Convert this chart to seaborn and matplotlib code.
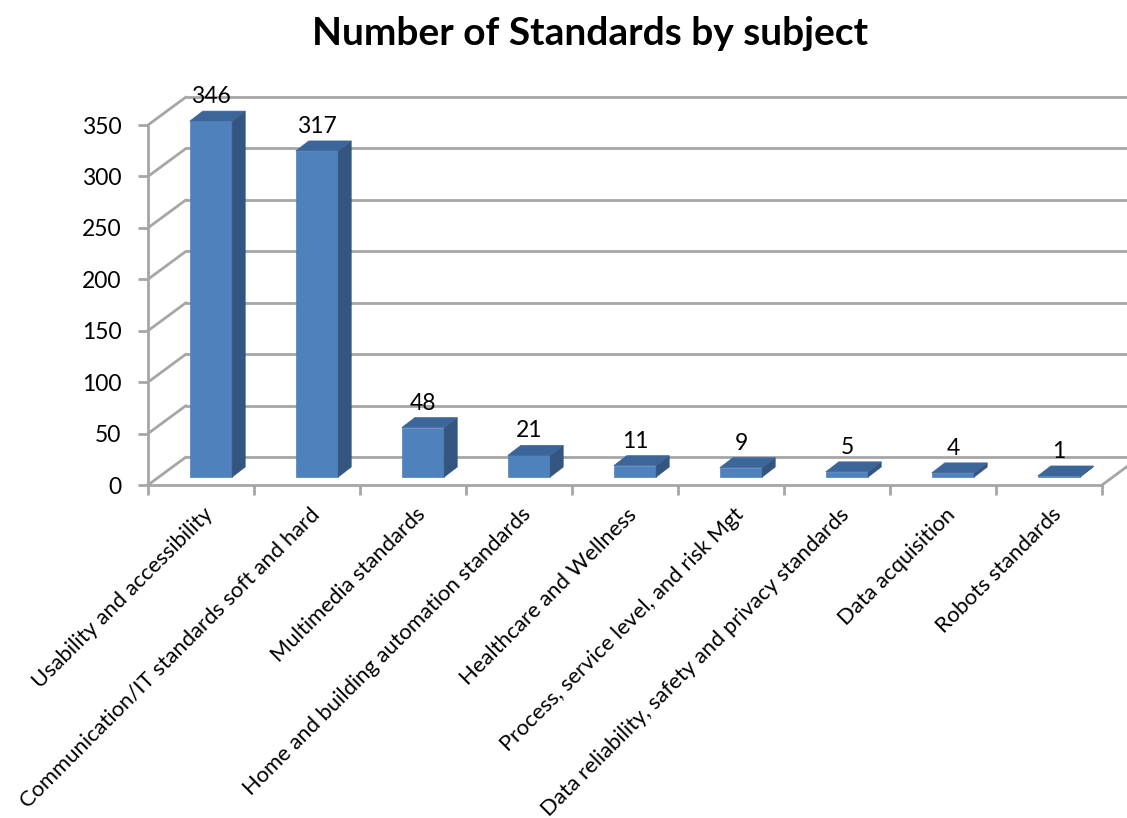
import matplotlib
matplotlib.use("Agg")
import matplotlib.pyplot as plt
import seaborn as sns
import pandas as pd
from matplotlib.patches import Polygon
from matplotlib.lines import Line2D
from matplotlib.transforms import Affine2D

categories = [
    "Usability and accessibility",
    "Communication/IT standards soft and hard",
    "Multimedia standards",
    "Home and building automation standards",
    "Healthcare and Wellness",
    "Process, service level, and risk Mgt",
    "Data reliability, safety and privacy standards",
    "Data acquisition",
    "Robots standards",
]
counts = [346, 317, 48, 21, 11, 9, 5, 4, 1]
y_ticks = [0, 50, 100, 150, 200, 250, 300, 350]

FRONT = "#4F81BD"
SIDE = "#34557F"
TOP = "#3C6599"
GRID = "#A6A6A6"

sns.set_theme(style="white")
plt.rcParams["font.family"] = ["Lato", "DejaVu Sans"]

W, H = 1127, 818
fig = plt.figure(figsize=(W / 100, H / 100), dpi=100)
ax = fig.add_axes([148 / W, (H - 485) / H, (1102 - 148) / W, (485 - 125) / H])

df = pd.DataFrame({"subject": categories, "count": counts})
sns.barplot(data=df, x="subject", y="count", color=FRONT, saturation=1,
            width=0.4, ax=ax, zorder=3, order=categories)
n = len(categories)
ax.set_xlim(-0.5, n - 0.5)
ax.set_ylim(0, 350)
ax.set_xlabel("")
ax.set_ylabel("")

# pixel -> data conversion for the pseudo-3D depth
ax_w_px = W * ax.get_position().width
ax_h_px = H * ax.get_position().height


def px(dx, dy):
    return dx * n / ax_w_px, dy * 350 / ax_h_px


WALL_DX, WALL_DY = px(38, 28)
BAR_SX, BAR_SY = px(10, 8)
BAR_DX, BAR_DY = px(13, 10)

x_left, x_right = -0.5, n - 0.5

# back wall gridlines and left-wall diagonals
for yv in y_ticks:
    ax.add_line(Line2D([x_left + WALL_DX, x_right + 3], [yv + WALL_DY, yv + WALL_DY],
                       color=GRID, lw=2, zorder=1, clip_on=False))
    ax.add_line(Line2D([x_left, x_left + WALL_DX], [yv, yv + WALL_DY],
                       color=GRID, lw=2, zorder=1, clip_on=False))
# floor right edge
ax.add_line(Line2D([x_right, x_right + WALL_DX], [0, WALL_DY],
                   color=GRID, lw=2, zorder=1, clip_on=False))

# bars: shift the front faces into depth and add side and top faces
for p, v in zip(ax.patches, counts):
    x0 = p.get_x() + BAR_SX
    w = p.get_width()
    p.set_x(x0)
    p.set_y(BAR_SY)
    p.set_height(v)
    p.set_clip_on(False)
    p.set_edgecolor(FRONT)
    p.set_linewidth(0.5)
    yb, yt = BAR_SY, BAR_SY + v
    side = Polygon([(x0 + w, yb), (x0 + w + BAR_DX, yb + BAR_DY),
                    (x0 + w + BAR_DX, yt + BAR_DY), (x0 + w, yt)],
                   closed=True, facecolor=SIDE, edgecolor=SIDE, lw=0.5,
                   zorder=3, clip_on=False)
    top = Polygon([(x0, yt), (x0 + w, yt), (x0 + w + BAR_DX, yt + BAR_DY),
                   (x0 + BAR_DX, yt + BAR_DY)],
                  closed=True, facecolor=TOP, edgecolor=TOP, lw=0.5,
                  zorder=3, clip_on=False)
    ax.add_patch(side)
    ax.add_patch(top)
    ax.annotate(f"{v}", xy=(x0 + w / 2, yt), xytext=(0, 18),
                textcoords="offset pixels", ha="center", va="baseline",
                fontsize=16.5, color="black", annotation_clip=False)

# axes styling
for s in ["top", "right"]:
    ax.spines[s].set_visible(False)
for s in ["left", "bottom"]:
    ax.spines[s].set_color(GRID)
    ax.spines[s].set_linewidth(2)
    ax.spines[s].set_zorder(2)

ax.set_yticks(y_ticks)
ax.set_yticklabels([str(t) for t in y_ticks], fontsize=16.5, color="black")
ax.tick_params(axis="y", left=True, length=7, width=2, color=GRID, pad=12)

ax.set_xticks(range(n))
ax.set_xticklabels(categories, rotation=45, ha="right", rotation_mode="anchor",
                   fontsize=15.8, color="black")
ax.set_xticks([i - 0.5 for i in range(n + 1)], minor=True)
ax.tick_params(axis="x", which="major", bottom=False, length=0, pad=14)
ax.tick_params(axis="x", which="minor", bottom=True, length=7, width=2, color=GRID)
for lbl in ax.get_xticklabels():
    lbl.set_transform(lbl.get_transform() + Affine2D().translate(2, 0))

fig.text(590 / W, 1 - 45 / H, "Number of Standards by subject", ha="center",
         va="baseline", fontsize=28, fontweight="bold", color="black")

fig.savefig("out.png", dpi=100, facecolor="white")
